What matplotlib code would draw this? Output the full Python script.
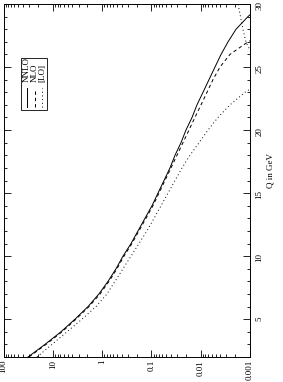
import numpy as np
import matplotlib
matplotlib.use('Agg')
import matplotlib.pyplot as plt
from matplotlib.ticker import FixedLocator, LogLocator, MultipleLocator, NullFormatter

# === dados ===
Q = np.arange(2, 31)  # Q em GeV

nnlo = [31.8, 14.4, 6.82, 3.55, 1.93, 1.16, 0.759, 0.522, 0.377, 0.259,
        0.187, 0.135, 0.0972, 0.0735, 0.0555, 0.0420, 0.0332, 0.0251, 0.0199, 0.0150,
        0.0119, 0.00897, 0.00679, 0.00513, 0.00387, 0.00279, 0.00192, 0.00110, 0.00057]

nlo = [30.4, 13.7, 6.50, 3.38, 1.84, 1.10, 0.724, 0.499, 0.360, 0.248,
       0.179, 0.129, 0.0929, 0.0702, 0.0530, 0.0400, 0.0303, 0.0229, 0.0173, 0.0131,
       0.00986, 0.00745, 0.00564, 0.00406, 0.00255, 0.00110, 0.000311, 0.00009, 0.00002]

lo = [20.9, 10.4, 5.15, 2.56, 1.33, 0.796, 0.547, 0.377, 0.259, 0.179,
      0.123, 0.0885, 0.0638, 0.0460, 0.0332, 0.0239, 0.0165, 0.0108, 0.00711, 0.00446,
      0.00255, 0.00126, 0.000497, 0.000155, 0.000910, 0.00121, 0.00139, 0.00156, 0.00175]

xticks = [100, 10, 1, 0.1, 0.01, 0.001]
xticklabels = ['100', '10', '1', '0.1', '0.01', '0.001']
labels = ['NNLO', 'NLO', '[LO]']

plt.rcParams['font.family'] = ['Liberation Serif', 'DejaVu Serif']
plt.rcParams['font.size'] = 6.5

W, H = 283, 382
fig = plt.figure(figsize=(W / 100, H / 100), dpi=100)
ax = fig.add_axes([3.5 / W, 25 / H, 246.5 / W, 353 / H])

lw = 0.7
ls_nlo = (0, (3.5, 3))
ls_lo = (0, (1, 2.8))
ax.plot(nnlo, Q, color='black', lw=lw, linestyle='-')
ax.plot(nlo, Q, color='black', lw=lw, linestyle=ls_nlo)
ax.plot(lo, Q, color='black', lw=lw, linestyle=ls_lo)

# eixos: log invertido na horizontal, Q na vertical (lado direito)
ax.set_xscale('log')
ax.set_xlim(100, 0.001)
ax.set_ylim(2, 30)

ax.xaxis.set_major_locator(FixedLocator(xticks))
ax.set_xticklabels(xticklabels)
ax.xaxis.set_minor_locator(LogLocator(base=10, subs=np.arange(2, 10)))
ax.xaxis.set_minor_formatter(NullFormatter())
ax.yaxis.set_major_locator(MultipleLocator(5))
ax.yaxis.set_minor_locator(MultipleLocator(1))

ax.tick_params(axis='both', which='both', direction='in', width=0.6,
               top=True, bottom=True, left=True, right=True,
               labelleft=False, labelright=True, labelbottom=True, labeltop=False)
ax.tick_params(which='major', length=5)
ax.tick_params(which='minor', length=2.5)
ax.tick_params(axis='x', labelrotation=90, pad=2)
ax.tick_params(axis='y', labelrotation=90, pad=4)
for s in ax.spines.values():
    s.set_linewidth(0.7)

fig.text(271 / W, 1 - 170 / H, 'Q in GeV', rotation=90, ha='center', va='center')

# legenda desenhada a mao (rotacionada)
box = plt.Rectangle((0.071, 0.700), 0.105, 0.147, transform=ax.transAxes,
                    fill=False, lw=0.6, color='black')
ax.add_patch(box)
styles = ['-', ls_nlo, ls_lo]
xs = [0.095, 0.126, 0.156]
for xx, st, lab in zip(xs, styles, labels):
    ax.plot([xx, xx], [0.708, 0.762], transform=ax.transAxes, color='black', lw=lw, linestyle=st)
    ax.text(xx, 0.778, lab, transform=ax.transAxes, rotation=90, rotation_mode='anchor',
            ha='left', va='center')

fig.savefig('out.png', dpi=100)
